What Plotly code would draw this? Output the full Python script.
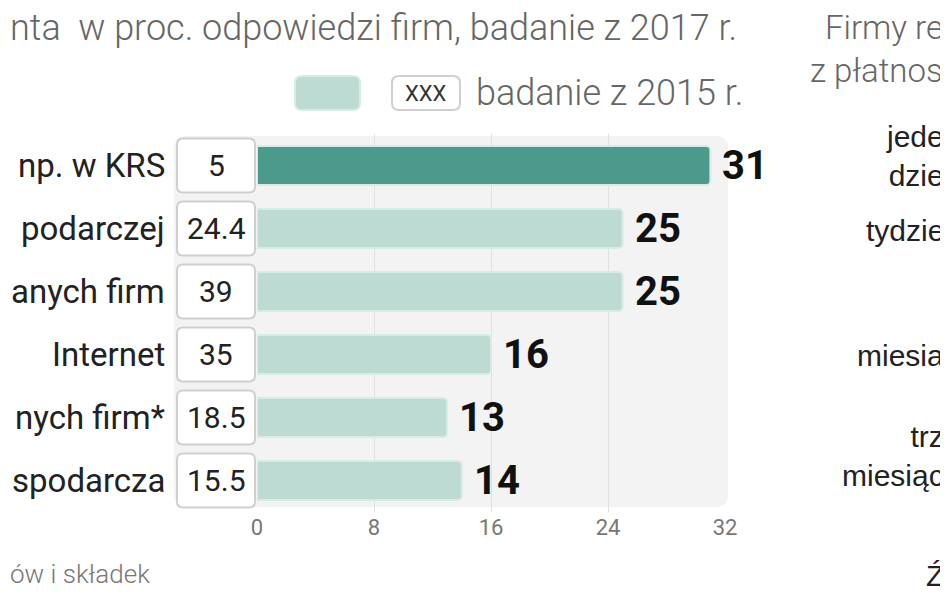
import plotly.graph_objects as go

# ---- data ----
labels = ["np. w KRS", "podarczej", "anych firm", "Internet", "nych firm*", "spodarcza"]
values_2017 = [31, 25, 25, 16, 13, 14]
values_2015 = ["5", "24.4", "39", "35", "18.5", "15.5"]
tick_vals = [0, 8, 16, 24, 32]
title_text = "nta  w proc. odpowiedzi firm, badanie z 2017 r."
legend_box_text = "XXX"
legend_text = "badanie z 2015 r."
footer_text = "ów i składek"
right_gray_texts = ["Firmy re", "z płatnos"]
right_dark_texts = ["jede<br>dzie", "tydzie", "miesia", "trz<br>miesiąc", "Ź"]

# ---- layout constants ----
# the page body has an 8px margin, so screen pixel = figure pixel + 8
OFF = 8
W, H = 940, 585
ML, MR, MT, MB = 249, 223, 126, 81
PW, PH = W - ML - MR, H - MT - MB

LIGHT = "Roboto, Lato, Liberation Sans, sans-serif"
SANS = "Roboto, Liberation Sans, Arial, sans-serif"

def px(xs):  # screen x -> paper
    return (xs - OFF - ML) / PW

def py(ys):  # screen y -> paper
    return (H - MB - (ys - OFF)) / PH

def rrect(x0, y0, x1, y1, r):
    rx, ry = r / PW, r / PH
    X0, X1 = px(x0), px(x1)
    Y0, Y1 = py(y1), py(y0)
    return (f"M{X0+rx},{Y0} L{X1-rx},{Y0} Q{X1},{Y0} {X1},{Y0+ry} "
            f"L{X1},{Y1-ry} Q{X1},{Y1} {X1-rx},{Y1} L{X0+rx},{Y1} "
            f"Q{X0},{Y1} {X0},{Y1-ry} L{X0},{Y0+ry} Q{X0},{Y0} {X0+rx},{Y0} Z")

vmax = max(values_2017)
colors = ["#4b9a8c" if v == vmax else "#bddbd2" for v in values_2017]

fig = go.Figure()
fig.add_trace(go.Bar(
    y=labels, x=values_2017, orientation="h",
    marker=dict(color=colors, line=dict(color="#d6ece5", width=2), cornerradius=4),
    width=0.62, hoverinfo="skip",
))

shapes = []
shapes.append(dict(type="path", xref="paper", yref="paper", layer="below",
                   path=rrect(174, 136, 728, 507, 12),
                   fillcolor="#f3f3f3", line=dict(width=0)))

annotations = []
n = len(labels)
row_h = PH / n
for i, (lab, v15, v17) in enumerate(zip(labels, values_2015, values_2017)):
    cy = MT + OFF + (i + 0.5) * row_h
    shapes.append(dict(type="path", xref="paper", yref="paper", layer="above",
                       path=rrect(177, cy - 27, 255, cy + 27, 6),
                       fillcolor="white", line=dict(color="#cfcfcf", width=2)))
    annotations.append(dict(x=px(216), y=lab, xref="paper", yref="y", text=v15,
                            showarrow=False, xanchor="center", yanchor="middle",
                            font=dict(family=SANS, size=30, color="#222")))
    annotations.append(dict(x=px(167), y=lab, xref="paper", yref="y", text=lab,
                            showarrow=False, xanchor="right", yanchor="middle",
                            font=dict(family=SANS, size=33, color="#222")))
    annotations.append(dict(x=v17, y=lab, xref="x", yref="y", text=f"<b>{v17}</b>",
                            showarrow=False, xanchor="left", yanchor="middle", xshift=10,
                            font=dict(family=SANS, size=40, color="#111")))

annotations.append(dict(x=px(8), y=py(28), xref="paper", yref="paper", text=title_text,
                        showarrow=False, xanchor="left", yanchor="middle",
                        font=dict(family=LIGHT, size=36, color="#666", weight=300)))
shapes.append(dict(type="path", xref="paper", yref="paper",
                   path=rrect(295, 76, 360, 110, 7),
                   fillcolor="#bddbd2", line=dict(color="#d6ece5", width=2)))
shapes.append(dict(type="path", xref="paper", yref="paper",
                   path=rrect(392, 76, 460, 110, 7),
                   fillcolor="white", line=dict(color="#cfcfcf", width=2)))
annotations.append(dict(x=px(426), y=py(93), xref="paper", yref="paper", text=legend_box_text,
                        showarrow=False, xanchor="center", yanchor="middle",
                        font=dict(family=SANS, size=22, color="#333")))
annotations.append(dict(x=px(474), y=py(93), xref="paper", yref="paper", text=legend_text,
                        showarrow=False, xanchor="left", yanchor="middle",
                        font=dict(family=LIGHT, size=36, color="#666", weight=300)))
annotations.append(dict(x=px(8), y=py(574), xref="paper", yref="paper", text=footer_text,
                        showarrow=False, xanchor="left", yanchor="middle",
                        font=dict(family=LIGHT, size=26, color="#777", weight=300)))
for t, yc in zip(right_gray_texts, [28, 70]):
    annotations.append(dict(x=px(945), y=py(yc), xref="paper", yref="paper", text=t,
                            showarrow=False, xanchor="right", yanchor="middle",
                            font=dict(family=LIGHT, size=33, color="#666", weight=300)))
for t, yc in zip(right_dark_texts, [156, 230, 355, 456, 575]):
    annotations.append(dict(x=px(946), y=py(yc), xref="paper", yref="paper", text=t,
                            showarrow=False, xanchor="right", yanchor="middle", align="right",
                            font=dict(family="Liberation Sans, Arial, sans-serif",
                                      size=30, color="#222")))

fig.update_layout(
    width=W, height=H,
    margin=dict(l=ML, r=MR, t=MT, b=MB),
    paper_bgcolor="white", plot_bgcolor="rgba(0,0,0,0)",
    showlegend=False,
    xaxis=dict(range=[0, 32], tickvals=tick_vals, showgrid=True, gridcolor="#e0e0e0",
               gridwidth=1, zeroline=False, showline=False, ticks="",
               tickfont=dict(family=SANS, size=22, color="#777"), fixedrange=True),
    yaxis=dict(categoryorder="array", categoryarray=labels, autorange="reversed",
               showticklabels=False, showgrid=False, zeroline=False, ticks="",
               fixedrange=True),
    shapes=shapes,
    annotations=annotations,
)

fig.write_html("out.html")
